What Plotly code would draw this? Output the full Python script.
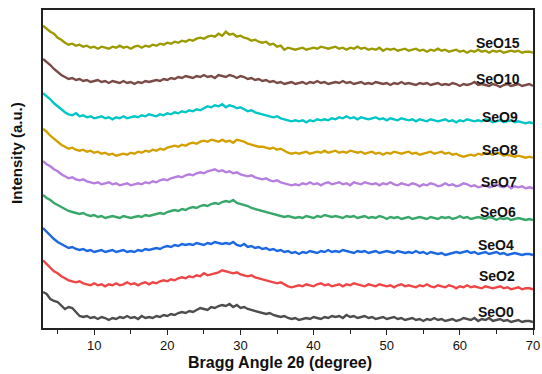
import plotly.graph_objects as go

# 2-theta sampling grid (degrees), 0.5 degree steps from 3 to 70
two_theta = [3 + 0.5 * i for i in range(135)]

sample_names = ["SeO0", "SeO2", "SeO4", "SeO6", "SeO7", "SeO8", "SeO9", "SeO10", "SeO15"]
colors = ["#4d4d4d", "#f04545", "#1c68e0", "#38a86a", "#b57ee0", "#d4a000", "#00c6c8", "#7a4b46", "#9b9b00"]
# vertical stacking offsets (a.u.)
offsets = [6, 38.7, 73, 108, 139.7, 170.3, 204.7, 242, 275.3]

SeO0 = [30, 28, 23, 21, 20, 16, 13, 15, 14, 10,
        6, 5, 6, 4, 5, 3, 5, 4, 2, 4,
        3, 5, 4, 6, 4, 5, 3, 6, 4, 5,
        4, 6, 5, 7, 6, 8, 7, 9, 10, 9,
        11, 10, 12, 14, 13, 12, 15, 14, 16, 17,
        16, 18, 15, 17, 14, 15, 13, 12, 11, 10,
        9, 8, 9, 7, 6, 5, 6, 4, 3, 4,
        2, 3, 4, 3, 5, 4, 3, 5, 4, 6,
        5, 6, 4, 7, 5, 6, 4, 5, 6, 4,
        5, 3, 4, 5, 3, 4, 5, 3, 4, 2,
        3, 4, 2, 3, 1, 3, 2, 4, 2, 3,
        1, 2, 3, 1, 2, 4, 3, 2, 4, 1,
        3, 2, 4, 1, 2, 3, 1, 2, 0, 1,
        2, 0, 1, 1, 0]

SeO2 = [29, 25, 21, 18, 16, 13, 11, 9, 8, 7,
        8, 6, 5, 4, 6, 4, 5, 3, 5, 4,
        6, 4, 5, 7, 5, 6, 4, 6, 7, 5,
        7, 6, 8, 9, 8, 10, 9, 11, 12, 11,
        13, 12, 14, 13, 16, 14, 15, 16, 17, 19,
        18, 17, 16, 17, 15, 14, 13, 14, 12, 11,
        10, 9, 8, 7, 6, 7, 5, 3, 2, 3,
        4, 3, 5, 4, 3, 5, 6, 4, 5, 3,
        4, 5, 3, 5, 4, 6, 5, 4, 3, 5,
        4, 3, 5, 4, 3, 4, 2, 4, 5, 3,
        4, 3, 2, 4, 3, 5, 3, 2, 4, 3,
        2, 4, 3, 1, 3, 2, 4, 2, 3, 2,
        1, 3, 2, 1, 2, 3, 1, 2, 0, 1,
        2, 0, 1, 1, 0]

SeO4 = [27, 23, 20, 16, 13, 11, 9, 7, 8, 6,
        5, 6, 4, 5, 3, 4, 5, 3, 4, 5,
        3, 4, 5, 3, 4, 3, 5, 4, 6, 5,
        6, 7, 6, 8, 9, 8, 10, 9, 11, 10,
        11, 10, 12, 11, 10, 12, 11, 13, 12, 11,
        12, 11, 13, 10, 9, 11, 8, 9, 7, 8,
        6, 7, 5, 6, 4, 5, 3, 4, 2, 3,
        1, 3, 2, 4, 3, 2, 4, 3, 5, 3,
        4, 3, 5, 4, 3, 2, 4, 3, 4, 2,
        3, 4, 2, 3, 4, 3, 2, 4, 3, 2,
        3, 2, 4, 2, 3, 1, 3, 2, 1, 2,
        0, 1, 2, 3, 2, 3, 4, 2, 3, 1,
        2, 3, 1, 2, 3, 1, 2, 0, 1, 2,
        1, 0, 1, 1, 0]

SeO6 = [25, 22, 20, 17, 15, 13, 11, 9, 8, 7,
        6, 7, 5, 4, 5, 3, 4, 2, 3, 4,
        3, 2, 4, 3, 2, 3, 4, 3, 5, 4,
        5, 6, 7, 6, 8, 9, 10, 9, 11, 10,
        12, 13, 12, 14, 15, 14, 16, 17, 16, 18,
        19, 18, 20, 17, 16, 15, 14, 12, 11, 10,
        9, 8, 7, 6, 5, 4, 3, 4, 3, 2,
        3, 2, 4, 3, 2, 4, 3, 5, 4, 3,
        4, 3, 2, 4, 3, 4, 2, 3, 4, 2,
        3, 2, 4, 3, 1, 3, 2, 3, 1, 2,
        3, 1, 2, 3, 2, 1, 3, 2, 1, 3,
        2, 3, 1, 2, 4, 2, 3, 1, 2, 3,
        2, 1, 3, 2, 0, 2, 1, 2, 0, 1,
        2, 1, 0, 1, 0]

SeO7 = [27, 24, 22, 19, 17, 14, 12, 10, 11, 9,
        8, 9, 7, 6, 5, 6, 4, 5, 6, 4,
        5, 3, 4, 5, 3, 4, 5, 4, 6, 5,
        7, 6, 8, 9, 8, 10, 11, 12, 11, 13,
        14, 13, 15, 16, 15, 17, 18, 19, 17, 18,
        16, 17, 15, 16, 14, 13, 12, 13, 11, 10,
        9, 10, 8, 7, 8, 6, 5, 4, 3, 4,
        3, 5, 4, 6, 4, 5, 3, 5, 6, 4,
        5, 6, 4, 5, 3, 6, 5, 4, 6, 5,
        4, 5, 3, 5, 4, 6, 4, 3, 5, 4,
        3, 5, 4, 2, 4, 3, 5, 4, 2, 3,
        5, 3, 4, 2, 3, 5, 4, 2, 3, 1,
        2, 3, 1, 2, 4, 2, 1, 3, 0, 2,
        1, 2, 0, 1, 0]

SeO8 = [29, 26, 22, 19, 16, 13, 11, 9, 10, 8,
        7, 8, 6, 7, 5, 6, 4, 5, 3, 4,
        2, 3, 4, 3, 5, 4, 6, 5, 7, 6,
        8, 7, 9, 8, 10, 11, 12, 11, 13, 12,
        14, 15, 14, 16, 17, 16, 18, 17, 16, 18,
        16, 17, 15, 18, 17, 16, 14, 13, 12, 11,
        11, 10, 9, 10, 8, 9, 7, 5, 4, 5,
        4, 5, 6, 4, 5, 6, 5, 7, 5, 6,
        7, 5, 6, 5, 7, 6, 5, 6, 4, 5,
        6, 4, 5, 3, 5, 4, 6, 5, 4, 5,
        6, 4, 5, 3, 4, 5, 6, 4, 5, 6,
        4, 5, 3, 4, 2, 1, 2, 3, 2, 4,
        3, 5, 4, 3, 5, 4, 2, 3, 2, 1,
        2, 1, 0, 1, 0]

SeO9 = [30, 27, 24, 20, 17, 14, 11, 9, 8, 10,
        7, 8, 6, 7, 5, 6, 7, 5, 6, 4,
        6, 5, 7, 5, 6, 7, 6, 8, 7, 9,
        8, 7, 9, 8, 10, 9, 11, 10, 12, 11,
        13, 12, 14, 13, 15, 17, 16, 18, 17, 19,
        16, 18, 17, 15, 16, 14, 12, 13, 11, 10,
        9, 8, 7, 6, 7, 5, 4, 3, 2, 3,
        2, 3, 1, 3, 2, 4, 3, 4, 3, 5,
        4, 6, 5, 7, 5, 6, 4, 6, 5, 4,
        5, 6, 4, 5, 3, 5, 4, 3, 5, 4,
        3, 4, 2, 4, 3, 2, 4, 3, 2, 3,
        4, 2, 3, 1, 3, 2, 4, 3, 2, 3,
        2, 4, 3, 1, 2, 3, 1, 2, 3, 1,
        2, 1, 0, 1, 0]

SeO10 = [27, 24, 21, 17, 14, 11, 9, 7, 8, 6,
         7, 5, 6, 4, 5, 6, 4, 5, 3, 5,
         4, 3, 5, 3, 4, 2, 4, 3, 5, 4,
         5, 6, 5, 7, 6, 8, 7, 9, 8, 10,
         9, 8, 10, 9, 11, 9, 10, 8, 11, 10,
         9, 11, 10, 8, 10, 9, 7, 8, 6, 7,
         5, 6, 4, 5, 3, 4, 2, 3, 4, 2,
         3, 4, 2, 4, 3, 5, 3, 4, 2, 3,
         4, 3, 5, 3, 4, 2, 3, 4, 2, 3,
         2, 4, 3, 2, 3, 1, 3, 2, 4, 2,
         3, 2, 1, 3, 2, 3, 1, 2, 3, 1,
         2, 1, 3, 2, 0, 2, 1, 2, 4, 1,
         2, 1, 0, 2, 1, -1, 1, 2, 0, 1,
         2, 0, 1, 2, 0]

SeO15 = [27, 24, 21, 19, 15, 13, 10, 8, 9, 7,
         8, 6, 7, 5, 6, 4, 6, 5, 4, 6,
         5, 7, 5, 6, 4, 6, 7, 5, 7, 6,
         8, 7, 9, 8, 10, 9, 11, 10, 12, 11,
         13, 12, 14, 15, 14, 16, 17, 16, 19, 17,
         21, 18, 19, 16, 17, 15, 14, 12, 13, 11,
         10, 11, 8, 9, 6, 7, 3, 5, 4, 3,
         4, 5, 3, 4, 5, 4, 6, 5, 4, 5,
         6, 4, 5, 3, 5, 4, 6, 4, 5, 3,
         4, 3, 5, 2, 4, 3, 4, 2, 3, 4,
         2, 3, 4, 2, 3, 1, 3, 2, 4, 2,
         3, 1, 2, 3, 1, 2, 0, 2, 1, 3,
         1, 2, 0, 2, 1, 2, 0, 1, 2, 1,
         2, 0, 1, 1, 0]

series = [SeO0, SeO2, SeO4, SeO6, SeO7, SeO8, SeO9, SeO10, SeO15]

# label positions (data coords)
label_x = [65.0, 65.1, 65.0, 65.2, 65.4, 65.5, 65.5, 65.2, 65.2]
label_y = [16.5, 52, 83.5, 116.5, 146.5, 178.5, 211.5, 249, 285.5]

FONT = "Liberation Sans, Arial, sans-serif"

fig = go.Figure()
for name, vals, off, col in zip(sample_names, series, offsets, colors):
    fig.add_trace(go.Scatter(
        x=two_theta, y=[v + off for v in vals], mode="lines", name=name,
        line=dict(color=col, width=2.4), showlegend=False,
    ))

for name, lx, ly in zip(sample_names, label_x, label_y):
    fig.add_annotation(x=lx, y=ly, xref="x", yref="y", text="<b>%s</b>" % name,
                       showarrow=False, font=dict(family=FONT, size=14, color="#111111"))

# axis titles as annotations (placed like the reference)
fig.add_annotation(x=0.4837, y=-0.110, xref="paper", yref="paper",
                   xanchor="center", yanchor="middle",
                   text="<b>Bragg Angle 2θ (degree)</b>", showarrow=False,
                   font=dict(family=FONT, size=16, color="#111111"))
fig.add_annotation(x=-0.0555, y=0.550, xref="paper", yref="paper",
                   xanchor="center", yanchor="middle",
                   text="<b>Intensity (a.u.)</b>", showarrow=False, textangle=-90,
                   font=dict(family=FONT, size=15, color="#111111"))

fig.update_layout(
    width=542, height=374,
    margin=dict(l=43, r=9, t=10, b=46, autoexpand=False),
    paper_bgcolor="white", plot_bgcolor="white",
    font=dict(family=FONT, color="#111111"),
    xaxis=dict(
        range=[3, 70], showgrid=False, zeroline=False,
        showline=True, linecolor="#222222", linewidth=1.5, mirror=True,
        tick0=0, dtick=10, ticks="outside", ticklen=5, tickwidth=1.2, tickcolor="#222222",
        tickfont=dict(size=13, color="#111111"),
        minor=dict(dtick=5, tick0=0, ticks="outside", ticklen=4, tickwidth=1.2, tickcolor="#222222"),
    ),
    yaxis=dict(
        range=[0, 318], showgrid=False, zeroline=False, showticklabels=False, ticks="",
        showline=True, linecolor="#222222", linewidth=1.5, mirror=True,
    ),
)

fig.write_html("out.html", config={"displayModeBar": False},
               post_script="document.body.style.margin='0';")
